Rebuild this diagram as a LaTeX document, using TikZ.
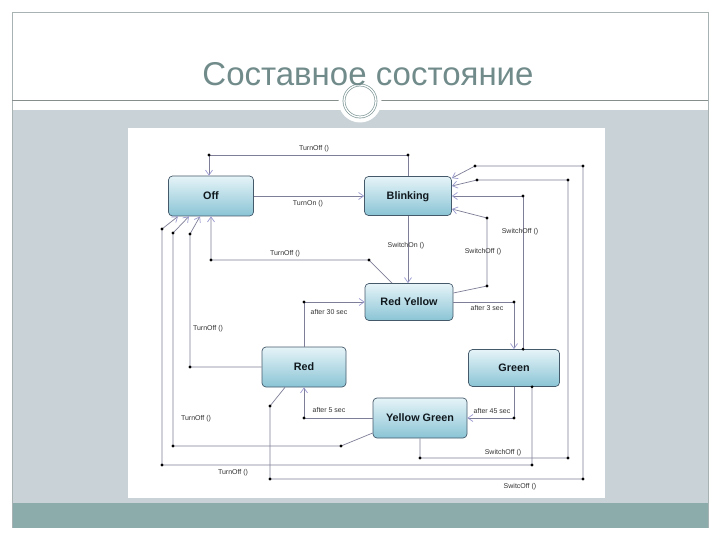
\documentclass[tikz,border=0pt]{standalone}
\usepackage{fontspec}
\setmainfont{Liberation Sans}
\usetikzlibrary{arrows.meta}
\definecolor{bandgray}{HTML}{C9D3D7}
\definecolor{bandteal}{HTML}{8BACAA}
\definecolor{framec}{HTML}{A8B2B2}
\definecolor{titlec}{HTML}{718B8B}
\definecolor{nodetop}{HTML}{E6F4F8}
\definecolor{nodebot}{HTML}{8AC4D5}
\definecolor{nodeborder}{HTML}{44596A}
\definecolor{nodetext}{HTML}{10181E}
\definecolor{linec}{HTML}{7E7E98}
\definecolor{arrowc}{HTML}{9A9AD0}
\definecolor{labelc}{HTML}{333333}
\tikzset{
  statebox/.style={draw=nodeborder, line width=0.7pt, rounded corners=4pt,
    top color=nodetop, bottom color=nodebot, text=nodetext, inner sep=0pt,
    text height=7.6pt, text depth=0pt,
    font=\fontsize{10.8}{12}\selectfont\bfseries},
  conn/.style={draw=linec, line width=0.7pt},
  arr/.style={-{Straight Barb[length=5pt,width=7pt,color=arrowc,line width=0.7pt]}},
  lbl/.style={font=\fontsize{7}{8}\selectfont, text=labelc, inner sep=0pt},
}
\newcommand{\blackdot}[1]{\fill (#1) circle (1.6);}
\begin{document}
\begin{tikzpicture}[x=1pt,y=-1pt]
\useasboundingbox (0,0) rectangle (720,540);
\fill[white] (0,0) rectangle (720,540);
% slide frame
\fill[bandgray] (12,110) rectangle (708,503);
\fill[bandteal] (12,503) rectangle (708,528);
\draw[framec, line width=0.8pt] (12,528) -- (12,12) -- (708,12) -- (708,528);
\draw[framec!80!black, line width=0.8pt] (12,100) -- (708,100);
\fill[white] (360,101) circle (21.5);
\draw[titlec!90!white, line width=0.7pt, double=white, double distance=1.3pt] (360,101) circle (16);
\node[anchor=base, inner sep=0pt, text=titlec, font=\fontsize{33}{38}\selectfont] (title) at (368,86) {Составное состояние};
% diagram canvas
\fill[white] (128,128) rectangle (605,498);
% states
\node[statebox, minimum width=85pt, minimum height=40pt] (off) at (211,196) {Off};
\node[statebox, minimum width=87pt, minimum height=39pt] (blink) at (408,196) {Blinking};
\node[statebox, minimum width=88pt, minimum height=37pt] (ry) at (409,302) {Red Yellow};
\node[statebox, minimum width=84pt, minimum height=40pt] (red) at (304,367) {Red};
\node[statebox, minimum width=91pt, minimum height=37pt] (green) at (514,368) {Green};
\node[statebox, minimum width=94pt, minimum height=40pt] (yg) at (420,418) {Yellow Green};
% bend points
\coordinate (a1) at (408,155); \coordinate (a2) at (209,155);
\coordinate (d1) at (369,260); \coordinate (d2) at (211,260);
\coordinate (e1) at (190,367); \coordinate (e2) at (190,234);
\coordinate (f1) at (341,446); \coordinate (f2) at (173,446); \coordinate (f3) at (173,233);
\coordinate (g1) at (532,465); \coordinate (g2) at (162,465); \coordinate (g3) at (162,229);
\coordinate (h1) at (270,406); \coordinate (h2) at (270,479); \coordinate (h3) at (583,479);
\coordinate (h4) at (583,166); \coordinate (h5) at (475,166);
\coordinate (i1) at (420,458); \coordinate (i2) at (568,458); \coordinate (i3) at (568,180); \coordinate (i4) at (477,180);
\coordinate (j1) at (523,196);
\coordinate (k1) at (487,286); \coordinate (k2) at (487,218);
\coordinate (l1) at (514,302);
\coordinate (m1) at (514,418);
\coordinate (n1) at (304,418);
\coordinate (o1) at (304,302);
\coordinate (g0) at ([xshift=18pt]green.south);
\coordinate (j0) at ([xshift=9pt]green.north);
% connectors
\draw[conn,arr] (blink.north) -- (a1) -- (a2) -- (a2 |- off.north);
\draw[conn,arr] (off.east) -- (blink.west);
\draw[conn,arr] (blink.south) -- (blink.south |- ry.north);
\draw[conn,arr] ([xshift=-17pt]ry.north) -- (d1) -- (d2) -- (off.south);
\draw[conn,arr] (red.west) -- (e1) -- (e2) -- ([xshift=-11pt]off.south);
\draw[conn,arr] ([yshift=-15pt]yg.west) -- (f1) -- (f2) -- (f3) -- ([xshift=-22pt]off.south);
\draw[conn,arr] (g0) -- (g1) -- (g2) -- (g3) -- ([xshift=-33pt]off.south);
\draw[conn,arr] ([xshift=-19pt]red.south) -- (h1) -- (h2) -- (h3) -- (h4) -- (h5) -- ([yshift=-2pt]blink.north east);
\draw[conn,arr] (yg.south) -- (i1) -- (i2) -- (i3) -- (i4) -- ([yshift=10pt]blink.east);
\draw[conn,arr] (j0) -- (j1) -- (blink.east);
\draw[conn,arr] ([yshift=9pt]ry.east) -- (k1) -- (k2) -- ([yshift=-13pt]blink.east);
\draw[conn,arr] (ry.east) -- (l1) -- (l1 |- green.north);
\draw[conn,arr] (green.south) -- (m1) -- (yg.east);
\draw[conn,arr] (yg.west) -- (n1) -- (n1 |- red.south);
\draw[conn,arr] (red.north) -- (o1) -- (ry.west);
% dots
\foreach \p in {a1,a2,d1,d2,e1,e2,f1,f2,f3,g0,g1,g2,g3,h1,h2,h3,h4,h5,i1,i2,i3,i4,j0,j1,k1,k2,l1,m1,n1,o1}{\blackdot{\p}}
% labels
\node[lbl] (la) at (314,149) {TurnOff ()};
\node[lbl] (lb) at (308,204) {TurnOn ()};
\node[lbl] (lc) at (406,246) {SwitchOn ()};
\node[lbl] (ld) at (285,254) {TurnOff ()};
\node[lbl] (le) at (208,329) {TurnOff ()};
\node[lbl] (lf) at (196,419) {TurnOff ()};
\node[lbl] (lg) at (233,473) {TurnOff ()};
\node[lbl] (lh) at (520,487) {SwitcOff ()};
\node[lbl] (li) at (503,453) {SwitchOff ()};
\node[lbl] (lj) at (520,232) {SwitchOff ()};
\node[lbl] (lk) at (483,252) {SwitchOff ()};
\node[lbl] (ll) at (487,308) {after 3 sec};
\node[lbl] (lm) at (492,411) {after 45 sec};
\node[lbl] (ln) at (329,410) {after 5 sec};
\node[lbl] (lo) at (329,312) {after 30 sec};
\end{tikzpicture}
\end{document}
